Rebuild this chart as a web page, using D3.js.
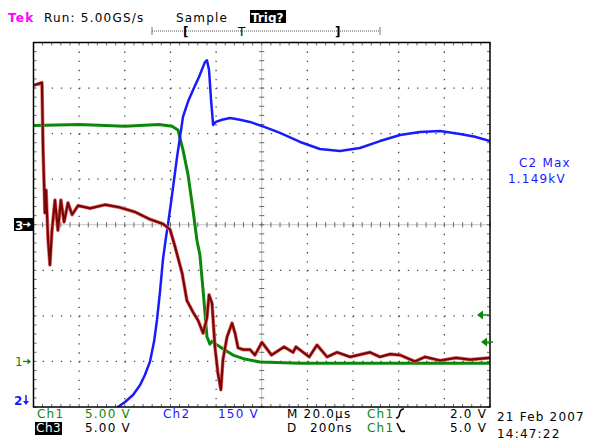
<!DOCTYPE html>
<html>
<head>
<meta charset="utf-8">
<script src="https://cdn.jsdelivr.net/npm/d3@7"></script>
<style>
  body { margin: 0; background: #fff; }
  svg text { font-family: "DejaVu Sans", sans-serif; font-size: 12px; letter-spacing: 1.2px; }
</style>
</head>
<body>
<svg id="scope" width="592" height="441"></svg>
<script>
// time in us from left edge of screen, value in volts
var ch1_data = [
  [0.2, 25.9], [20, 26.0], [40, 25.8], [55, 26.0], [60.7, 25.8], [63.3, 25.4], [65.5, 23.2],
  [67.7, 20.5], [69.9, 16.6], [71.6, 13.3], [72.9, 11.7], [74.3, 7.8], [76.0, 2.7],
  [77.3, 1.9], [78.2, 2.2], [79.9, 1.9], [81.7, 1.6], [87.4, 0.7], [92.6, 0.26],
  [99.2, -0.07], [116.8, -0.2], [160.6, -0.2], [200, -0.2]
];
var ch2_data = [
  [35, -20], [37.0, 7.6], [40.1, 24], [43.6, 47], [46.7, 80], [48.8, 113], [51.0, 156],
  [52.8, 222], [54.1, 294], [55.4, 386], [56.7, 492], [58.0, 564], [58.9, 607],
  [60.7, 706], [62.9, 831], [65.5, 963], [67.7, 1013], [69.9, 1051], [72.5, 1094],
  [75.1, 1143], [76.0, 1149], [76.9, 1117], [77.8, 1018], [78.7, 936], [79.9, 946],
  [82.6, 953], [86.1, 959], [90.5, 953], [94.8, 946], [101.4, 929], [108.0, 910],
  [116.8, 880], [125.5, 857], [134.3, 850], [143.0, 860], [151.8, 883], [160.6, 903],
  [169.3, 913], [178.1, 916], [186.9, 906], [193.4, 897], [200, 883]
];
var ch3_data = [
  [0.2, 15.3], [3.7, 15.6], [4.2, 8.2], [5.0, 1.3], [5.5, 3.8], [6.4, -1.7], [7.2, -4.4],
  [8.1, -0.6], [9.4, 2.7], [10.7, -0.6], [12.0, 2.7], [13.4, 0.3], [15.1, 2.4],
  [16.9, 1.1], [19.5, 2.1], [24.8, 1.8], [31.3, 2.2], [37.9, 1.9], [44.5, 1.4],
  [51.0, 0.6], [56.7, 0.1], [59.8, -0.5], [62.0, -2.4], [65.1, -5.3], [67.2, -8.3],
  [69.9, -9.6], [72.1, -10.5], [74.3, -11.9], [76.0, -10.2], [76.9, -7.7], [78.2, -8.6],
  [79.5, -13.4], [80.8, -16.3], [82.1, -18.1], [83.0, -14.8], [84.8, -12.3], [87.0, -10.8],
  [88.3, -11.9], [89.6, -13.5], [91.8, -13.7], [94.8, -13.7], [97.0, -14.3], [100.1, -12.9],
  [104.3, -14.3], [109.8, -13.4], [113.7, -14.0], [115.0, -13.4], [120.8, -14.5],
  [124.2, -13.2], [128.6, -14.5], [133.0, -14.0], [138.7, -14.5], [147.4, -14.0],
  [151.8, -14.5], [156.2, -14.2], [160.6, -14.3], [167.1, -15.0], [171.5, -14.5],
  [178.1, -14.9], [185.1, -14.6], [191.3, -14.8], [200, -14.6]
];

var channels = [
  {name: "Ch1", data: ch1_data, volts_per_div: 5, offset_div: -3, color: "#0b880b", width: 3},
  {name: "Ch2", data: ch2_data, volts_per_div: 150, offset_div: -4.05, color: "#1a1aff", width: 2.5},
  {name: "Ch3", data: ch3_data, volts_per_div: 5, offset_div: 0, color: "#7a0505", width: 2.2}
];

var us_per_div = 20;
var x = d3.scaleLinear().domain([0, 10 * us_per_div]).range([33.5, 490]);
var div_y = d3.scaleLinear().domain([-4, 4]).range([407, 42.5]);
var dx = x(us_per_div) - x(0);
var dy = div_y(0) - div_y(1);

var svg = d3.select("#scope");

// graticule
var grid = svg.append("g");
d3.range(1, 10).forEach(function(i) {
    if (i == 5) return;
    grid.append("line")
        .attr("x1", x(i * us_per_div)).attr("x2", x(i * us_per_div))
        .attr("y1", div_y(4)).attr("y2", div_y(-4))
        .attr("stroke", "#444").attr("stroke-width", 1.3)
        .attr("stroke-dasharray", "1.3," + (dy / 5 - 1.3));
});
d3.range(-3, 4).forEach(function(j) {
    if (j == 0) return;
    grid.append("line")
        .attr("x1", x(0)).attr("x2", x(200))
        .attr("y1", div_y(j)).attr("y2", div_y(j))
        .attr("stroke", "#444").attr("stroke-width", 1.3)
        .attr("stroke-dasharray", "1.3," + (dx / 5 - 1.3));
});
// center cross
grid.append("line")
    .attr("x1", x(100)).attr("x2", x(100)).attr("y1", div_y(4)).attr("y2", div_y(-4))
    .attr("stroke", "#888").attr("stroke-dasharray", "1,1");
grid.append("line")
    .attr("x1", x(0)).attr("x2", x(200)).attr("y1", div_y(0)).attr("y2", div_y(0))
    .attr("stroke", "#888").attr("stroke-dasharray", "1,1");
d3.range(0, 51).forEach(function(k) {
    var tx = x(k * us_per_div / 5);
    grid.append("line").attr("x1", tx).attr("x2", tx)
        .attr("y1", div_y(0) - 2.5).attr("y2", div_y(0) + 2.5).attr("stroke", "#666");
    grid.append("line").attr("x1", tx).attr("x2", tx)
        .attr("y1", div_y(4)).attr("y2", div_y(4) + 3).attr("stroke", "#666");
    grid.append("line").attr("x1", tx).attr("x2", tx)
        .attr("y1", div_y(-4)).attr("y2", div_y(-4) - 3).attr("stroke", "#666");
});
d3.range(0, 41).forEach(function(k) {
    var ty = div_y(-4 + k / 5);
    grid.append("line").attr("y1", ty).attr("y2", ty)
        .attr("x1", x(100) - 2.5).attr("x2", x(100) + 2.5).attr("stroke", "#666");
    grid.append("line").attr("y1", ty).attr("y2", ty)
        .attr("x1", x(0)).attr("x2", x(0) + 3).attr("stroke", "#666");
    grid.append("line").attr("y1", ty).attr("y2", ty)
        .attr("x1", x(200)).attr("x2", x(200) - 3).attr("stroke", "#666");
});

svg.append("clipPath").attr("id", "screen").append("rect")
    .attr("x", x(0)).attr("y", div_y(4)).attr("width", x(200) - x(0)).attr("height", div_y(-4) - div_y(4));

var traces = svg.append("g").attr("clip-path", "url(#screen)");
channels.forEach(function(ch) {
    var line = d3.line()
        .x(function(d) { return x(d[0]); })
        .y(function(d) { return div_y(d[1] / ch.volts_per_div + ch.offset_div); });
    if (ch.name == "Ch3") {
        traces.append("path").attr("d", line(ch.data))
            .attr("fill", "none").attr("stroke", "#e07070").attr("stroke-width", 3.6)
            .attr("stroke-linejoin", "round");
    }
    traces.append("path").attr("d", line(ch.data))
        .attr("fill", "none").attr("stroke", ch.color).attr("stroke-width", ch.width)
        .attr("stroke-linejoin", "round");
});

// frame
svg.append("rect")
    .attr("x", x(0)).attr("y", div_y(4)).attr("width", x(200) - x(0)).attr("height", div_y(-4) - div_y(4))
    .attr("fill", "none").attr("stroke", "#000").attr("stroke-width", 1.5);

// header
svg.append("text").attr("x", 8).attr("y", 22).attr("fill", "#ff00ff")
    .attr("font-weight", "bold").text("Tek");
svg.append("text").attr("x", 44).attr("y", 22).text("Run: 5.00GS/s");
svg.append("text").attr("x", 176).attr("y", 22).text("Sample");
svg.append("rect").attr("x", 250).attr("y", 10).attr("width", 36).attr("height", 13).attr("fill", "#000");
svg.append("text").attr("x", 251).attr("y", 21.5).attr("fill", "#fff").attr("font-weight", "bold")
    .style("letter-spacing", "0px").text("Trig?");
// record bar
svg.append("line").attr("x1", 152).attr("x2", 380).attr("y1", 31).attr("y2", 31)
    .attr("stroke", "#555").attr("stroke-dasharray", "1,1");
[152, 380].forEach(function(bx) {
    svg.append("line").attr("x1", bx).attr("x2", bx).attr("y1", 27).attr("y2", 35).attr("stroke", "#777");
});
svg.append("text").attr("x", 183).attr("y", 36).attr("font-weight", "bold").text("[");
svg.append("text").attr("x", 238).attr("y", 36).text("T");
svg.append("text").attr("x", 335).attr("y", 36).attr("font-weight", "bold").text("]");

// ground markers
function arrow_right(g, x0, y0, color) {
    g.append("line").attr("x1", x0).attr("x2", x0 + 7).attr("y1", y0).attr("y2", y0)
        .attr("stroke", color).attr("stroke-width", 1.3);
    g.append("path").attr("d", "M" + (x0 + 8) + "," + y0 + "l-3.5,-3v6z").attr("fill", color);
}
svg.append("rect").attr("x", 14).attr("y", 218).attr("width", 19).attr("height", 13).attr("fill", "#000");
svg.append("text").attr("x", 15).attr("y", 229.5).attr("fill", "#fff").attr("font-weight", "bold")
    .style("letter-spacing", "0px").text("3");
arrow_right(svg, 23, 224.5, "#fff");
svg.append("text").attr("x", 15).attr("y", div_y(-3) + 4.5).attr("fill", "#0b880b")
    .style("letter-spacing", "0px").text("1");
arrow_right(svg, 23, div_y(-3), "#0b880b");
svg.append("text").attr("x", 14).attr("y", 405).attr("fill", "#1a1aff").attr("font-weight", "bold")
    .style("letter-spacing", "0px").text("2");
svg.append("line").attr("x1", 26).attr("x2", 26).attr("y1", 395).attr("y2", 403)
    .attr("stroke", "#1a1aff").attr("stroke-width", 1.5);
svg.append("path").attr("d", "M26,405l-3,-4h6z").attr("fill", "#1a1aff");

// trigger level arrows on right
[{y: 315, x: 477}, {y: 342, x: 481}].forEach(function(a) {
    svg.append("path")
        .attr("d", "M" + a.x + "," + a.y + "l6,-4.5v9z")
        .attr("fill", "#0b880b");
    svg.append("line").attr("x1", a.x + 5).attr("x2", a.x + 12).attr("y1", a.y).attr("y2", a.y)
        .attr("stroke", "#0b880b").attr("stroke-width", 1.5);
});

// measurement
svg.append("text").attr("x", 519).attr("y", 167).attr("fill", "#1a1aff").text("C2 Max");
svg.append("text").attr("x", 508).attr("y", 183).attr("fill", "#1a1aff").text("1.149kV");

// footer
var footer = [
    {t: "Ch1", x: 37, y: 418, c: "#0b880b"},
    {t: "5.00 V", x: 85, y: 418, c: "#0b880b"},
    {t: "Ch2", x: 163, y: 418, c: "#1a1aff"},
    {t: "150 V", x: 218, y: 418, c: "#1a1aff"},
    {t: "M 20.0µs", x: 287, y: 418, c: "#000"},
    {t: "Ch1", x: 367, y: 418, c: "#0b880b"},
    {t: "2.0 V", x: 450, y: 418, c: "#000"},
    {t: "5.00 V", x: 85, y: 432, c: "#000"},
    {t: "D", x: 287, y: 432, c: "#000"},
    {t: "200ns", x: 310, y: 432, c: "#000"},
    {t: "Ch1", x: 367, y: 432, c: "#0b880b"},
    {t: "5.0 V", x: 450, y: 432, c: "#000"},
    {t: "21 Feb 2007", x: 497, y: 421, c: "#000"},
    {t: "14:47:22", x: 497, y: 438, c: "#000"}
];
footer.forEach(function(f) {
    svg.append("text").attr("x", f.x).attr("y", f.y).attr("fill", f.c).text(f.t);
});
svg.append("rect").attr("x", 35).attr("y", 422).attr("width", 27).attr("height", 13).attr("fill", "#000");
svg.append("text").attr("x", 36).attr("y", 432).attr("fill", "#fff").style("letter-spacing", "0.5px").text("Ch3");
// edge symbols
svg.append("path").attr("d", "M396,418 Q399,418 399.5,414 Q400,409 404,409")
    .attr("fill", "none").attr("stroke", "#000").attr("stroke-width", 1.6);
svg.append("path").attr("d", "M397,423 L401,431 Q402,432 405,431")
    .attr("fill", "none").attr("stroke", "#000").attr("stroke-width", 1.6);
</script>
</body>
</html>
